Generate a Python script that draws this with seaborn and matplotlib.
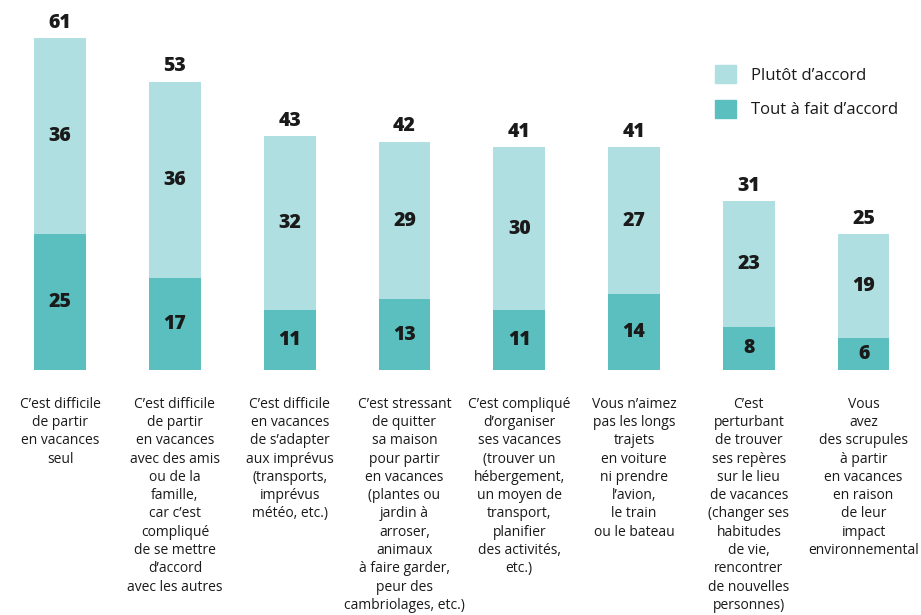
import matplotlib
matplotlib.use("Agg")
import matplotlib.pyplot as plt
from matplotlib.patches import Patch
import seaborn as sns
import pandas as pd

# Data
categories = [
    "C’est difficile\nde partir\nen vacances\nseul",
    "C’est difficile\nde partir\nen vacances\navec des amis\nou de la\nfamille,\ncar c’est\ncompliqué\nde se mettre\nd’accord\navec les autres",
    "C’est difficile\nen vacances\nde s’adapter\naux imprévus\n(transports,\nimprévus\nmétéo, etc.)",
    "C’est stressant\nde quitter\nsa maison\npour partir\nen vacances\n(plantes ou\njardin à\narroser,\nanimaux\nà faire garder,\npeur des\ncambriolages, etc.)",
    "C’est compliqué\nd’organiser\nses vacances\n(trouver un\nhébergement,\nun moyen de\ntransport,\nplanifier\ndes activités,\netc.)",
    "Vous n’aimez\npas les longs\ntrajets\nen voiture\nni prendre\nl’avion,\nle train\nou le bateau",
    "C’est\nperturbant\nde trouver\nses repères\nsur le lieu\nde vacances\n(changer ses\nhabitudes\nde vie,\nrencontrer\nde nouvelles\npersonnes)",
    "Vous\navez\ndes scrupules\nà partir\nen vacances\nen raison\nde leur\nimpact\nenvironnemental",
]
tout_a_fait = [25, 17, 11, 13, 11, 14, 8, 6]
plutot = [36, 36, 32, 29, 30, 27, 23, 19]
totals = [61, 53, 43, 42, 41, 41, 31, 25]

c_light = "#b0dfe1"
c_dark = "#5cbfbf"
c_text = "#1a1a1a"

df = pd.DataFrame({"cat": list(range(len(categories))), "tout": tout_a_fait,
                   "plutot": plutot, "total": totals})

sns.set_style("white")
plt.rcParams["font.family"] = ["Open Sans", "DejaVu Sans"]

fig = plt.figure(figsize=(9.21, 6.15), dpi=100)
ax = fig.add_axes([0.003, 0.398, 0.997, 0.602])

# total (light) first, then the dark part on top of it
sns.barplot(data=df, x="cat", y="total", color=c_light, width=0.45,
            saturation=1, linewidth=0, ax=ax)
sns.barplot(data=df, x="cat", y="tout", color=c_dark, width=0.45,
            saturation=1, linewidth=0, ax=ax)

for i, row in df.iterrows():
    ax.text(i, row["tout"] / 2, str(row["tout"]), ha="center", va="center",
            fontsize=14, fontweight="heavy", color=c_text)
    ax.text(i, row["tout"] + row["plutot"] / 2, str(row["plutot"]),
            ha="center", va="center", fontsize=14, fontweight="heavy", color=c_text)
    ax.text(i, row["total"] + 1.0, str(row["total"]), ha="center", va="bottom",
            fontsize=14, fontweight="heavy", color=c_text)

ax.set_ylim(0, 68)
ax.set_xlim(-0.5, 7.5)
ax.set_xticks(range(len(categories)))
ax.set_xticklabels(categories, fontsize=10, color=c_text, linespacing=1.3, va="top")
ax.tick_params(axis="x", length=0, pad=19)
ax.set_yticks([])
ax.set_xlabel("")
ax.set_ylabel("")
sns.despine(ax=ax, left=True, bottom=True)

handles = [Patch(color=c_light, label="Plutôt d’accord"),
           Patch(color=c_dark, label="Tout à fait d’accord")]
fig.legend(handles=handles, loc="upper left", bbox_to_anchor=(700 / 921, 1 - 50 / 615),
           frameon=False, fontsize=12, handlelength=1.25, handleheight=1.3,
           labelspacing=0.95, handletextpad=0.9, labelcolor=c_text)

fig.savefig("out.png", dpi=100)
